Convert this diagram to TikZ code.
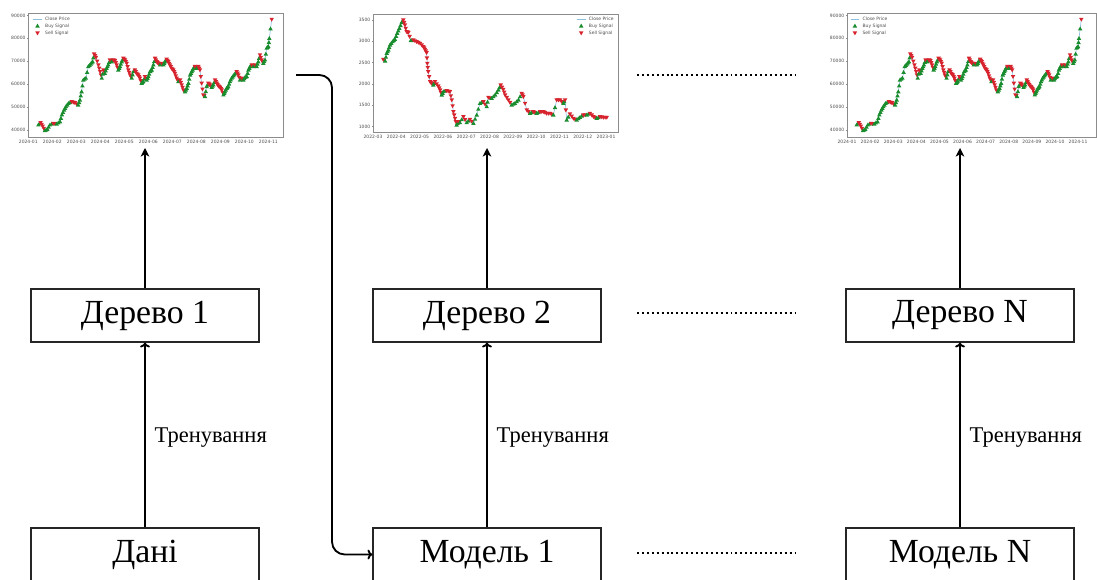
\documentclass[tikz,border=0pt]{standalone}
\usepackage{fontspec}
\setmainfont{Liberation Serif}
\newfontfamily\plotfont{DejaVu Sans}
\usetikzlibrary{arrows.meta}
\definecolor{pricecol}{RGB}{140,190,222}
\definecolor{buycol}{RGB}{25,140,45}
\definecolor{sellcol}{RGB}{215,35,45}
% маркери сигналів
\newcommand{\buymark}[1]{\fill[buy] #1 ++(0,1.7pt) -- ++(1.6pt,-2.8pt) -- ++(-3.2pt,0) -- cycle;}
\newcommand{\sellmark}[1]{\fill[sell] #1 ++(0,-1.7pt) -- ++(1.6pt,2.8pt) -- ++(-3.2pt,0) -- cycle;}
% курс (місяць/тис.)
\newcommand{\btcdata}{0.42/42.2, 0.51/43.2, 0.60/41.7, 0.69/39.7, 0.79/40.3, 0.90/42.2, 1.04/42.9, 1.18/42.6, 1.32/43.6, 1.40/46.6, 1.49/48.7, 1.57/50.2, 1.67/51.6, 1.81/52.4, 1.94/51.9, 2.08/50.9, 2.15/53.1, 2.22/56.7, 2.29/61.8, 2.40/62.6, 2.50/67.7, 2.60/68.8, 2.68/69.8, 2.74/73.2, 2.82/71.7, 2.92/68.4, 2.99/65.5, 3.06/62.6, 3.13/66.2, 3.19/64.7, 3.26/66.9, 3.33/68.4, 3.40/70.6, 3.47/69.8, 3.54/70.6, 3.61/70.3, 3.68/68.4, 3.75/66.2, 3.82/67.7, 3.89/69.8, 3.96/71.3, 4.03/70.6, 4.10/69.1, 4.17/66.2, 4.24/64.0, 4.31/62.6, 4.38/65.5, 4.44/66.2, 4.51/64.7, 4.58/64.0, 4.65/62.6, 4.72/60.4, 4.79/61.1, 4.86/63.3, 4.93/61.8, 5.00/63.3, 5.07/65.5, 5.14/66.2, 5.21/68.4, 5.28/71.3, 5.35/69.8, 5.42/69.1, 5.49/68.4, 5.56/69.1, 5.63/68.4, 5.69/69.8, 5.76/70.9, 5.83/69.8, 5.90/68.4, 5.97/66.9, 6.04/66.2, 6.11/64.7, 6.18/62.6, 6.25/61.1, 6.32/61.8, 6.39/59.7, 6.46/57.5, 6.53/56.7, 6.60/58.2, 6.67/60.4, 6.74/64.0, 6.81/65.5, 6.88/66.9, 6.94/67.7, 7.01/66.9, 7.08/67.7, 7.15/66.2, 7.22/60.4, 7.29/55.3, 7.36/54.6, 7.43/58.9, 7.50/60.4, 7.57/59.7, 7.64/58.6, 7.71/59.7, 7.78/61.8, 7.85/60.4, 7.92/59.2, 7.99/58.6, 8.06/57.5, 8.13/55.3, 8.19/56.7, 8.26/58.2, 8.33/58.9, 8.40/61.1, 8.47/62.6, 8.54/63.6, 8.61/64.5, 8.68/65.5, 8.75/64.0, 8.82/61.8, 8.89/62.6, 8.96/61.8, 9.03/63.0, 9.10/63.3, 9.17/66.2, 9.24/67.7, 9.31/68.4, 9.38/67.7, 9.44/68.4, 9.51/67.7, 9.58/69.8, 9.65/72.8, 9.72/70.6, 9.79/69.1, 9.86/70.6, 9.93/75.7, 10.00/76.4, 10.04/80.0, 10.14/88.3}
% курс (місяць/сотні)
\newcommand{\ethdata}{0.44/25.77, 0.52/25.38, 0.59/27.17, 0.66/27.95, 0.73/29.13, 0.84/29.91, 0.94/30.45, 1.04/31.86, 1.13/33.03, 1.23/34.36, 1.30/34.98, 1.37/33.81, 1.44/32.25, 1.52/32.09, 1.62/30.14, 1.73/30.30, 1.87/29.91, 2.02/29.52, 2.16/28.74, 2.23/28.11, 2.30/27.33, 2.33/24.83, 2.37/22.88, 2.45/20.54, 2.52/20.15, 2.59/19.76, 2.66/20.54, 2.80/19.52, 2.88/18.59, 2.95/17.42, 3.02/18.20, 3.16/18.43, 3.30/18.20, 3.38/16.25, 3.45/13.51, 3.52/11.95, 3.59/10.39, 3.66/11.17, 3.73/10.94, 3.88/12.34, 4.02/10.94, 4.16/11.72, 4.31/10.78, 4.45/12.73, 4.59/15.46, 4.74/15.85, 4.88/14.68, 4.95/16.87, 5.09/16.64, 5.24/17.42, 5.38/18.59, 5.48/19.76, 5.59/18.74, 5.67/17.42, 5.81/16.25, 5.95/15.07, 6.09/15.46, 6.24/16.25, 6.38/17.81, 6.45/17.03, 6.60/13.90, 6.74/13.12, 6.88/13.51, 7.02/13.12, 7.17/13.51, 7.31/13.51, 7.45/13.12, 7.60/13.12, 7.74/12.73, 7.88/16.25, 8.03/16.25, 8.17/15.46, 8.24/16.25, 8.31/11.56, 8.45/12.97, 8.60/11.95, 8.74/11.56, 8.88/12.19, 9.03/12.73, 9.17/12.73, 9.31/13.12, 9.46/12.34, 9.60/11.95, 9.74/12.34, 9.89/12.19, 10.03/12.19}
\begin{document}
\begin{tikzpicture}[x=0.025cm, y=0.025cm,
	box/.style={draw=black!85, line width=0.8pt, minimum width=5.7cm, minimum height=1.325cm, font=\fontsize{24}{28}\selectfont},
	train/.style={-{To[length=3.5pt,width=7pt]}, line width=1.3pt},
	feed/.style={-{Stealth[length=6pt,width=6pt,inset=1.5pt]}, line width=1.3pt},
	gap/.style={line width=1.3pt, dash pattern=on 1.4pt off 2.1pt},
	lbl/.style={right, xshift=0.22cm, yshift=-0.07cm, inner sep=0pt, font=\fontsize{16}{19}\selectfont},
	frame/.style={draw=black!45, line width=0.35pt},
	price/.style={draw=pricecol, line width=0.45pt},
	tiny/.style={font=\plotfont\fontsize{3.2}{3.6}\selectfont, text=black!70, inner sep=0.8pt},
	buy/.style={fill=buycol},
	sell/.style={fill=sellcol}]
	\useasboundingbox (0,0) rectangle (1097,579);
	% графіки 2024
	\foreach \ox/\sx/\fr in {28.3/0.6/10.61, 847/0.5775/10.78}{
		\begin{scope}[shift={(\ox,357.4)}, x=\sx cm, y=0.05725cm]
			\draw[frame] (0,36.94) rectangle (\fr,91.09);
			\foreach \v in {4,...,9}
				\draw[frame] (0,\v0) -- ++(-1pt,0) node[tiny,left] (ya\v) {\v0000};
			\foreach \lab [count=\i from 0] in {2024-01,2024-02,2024-03,2024-04,2024-05,2024-06,2024-07,2024-08,2024-09,2024-10,2024-11}
				\draw[frame] (\i,36.94) -- ++(0,-1pt) node[tiny,below] (xa\i) {\lab};
			\foreach \m/\p [remember=\m as \lm (initially 0.42), remember=\p as \lp (initially 42.2)] in \btcdata
				\draw[price] (\lm,\lp) -- (\m,\p);
			\foreach \m/\p [remember=\m as \lm (initially -1), remember=\p as \lp (initially 0)] in \btcdata {
				\ifdim\lm pt<0pt\else
					\pgfmathsetmacro\hm{(\lm+\m)/2}
					\pgfmathsetmacro\hp{(\lp+\p)/2}
					\ifdim\p pt>\lp pt
						\buymark{(\lm,\lp)} \buymark{(\hm,\hp)}
					\else
						\sellmark{(\lm,\lp)} \sellmark{(\hm,\hp)}
					\fi
				\fi
			}
			\sellmark{(10.14,88.3)}
		\end{scope}
	}
	% графік 2022
	\begin{scope}[shift={(373,409.6)}, x=0.5825cm, y=0.10675cm]
		\draw[frame] (0,8.76) rectangle (10.52,36.39);
		\foreach \v in {10,15,...,35}
			\draw[frame] (0,\v) -- ++(-1pt,0) node[tiny,left] (yb\v) {\v00};
		\foreach \lab [count=\i from 0] in {2022-03,2022-04,2022-05,2022-06,2022-07,2022-08,2022-09,2022-10,2022-11,2022-12,2023-01}
			\draw[frame] (\i,8.76) -- ++(0,-1pt) node[tiny,below] (xb\i) {\lab};
		\foreach \m/\p [remember=\m as \lm (initially 0.44), remember=\p as \lp (initially 25.77)] in \ethdata
			\draw[price] (\lm,\lp) -- (\m,\p);
		\foreach \m/\p [remember=\m as \lm (initially -1), remember=\p as \lp (initially 0)] in \ethdata {
			\ifdim\lm pt<0pt\else
				\pgfmathsetmacro\hm{(\lm+\m)/2}
				\pgfmathsetmacro\hp{(\lp+\p)/2}
				\ifdim\p pt>\lp pt
					\buymark{(\lm,\lp)} \buymark{(\hm,\hp)}
				\else
					\sellmark{(\lm,\lp)} \sellmark{(\hm,\hp)}
				\fi
			\fi
		}
		\sellmark{(10.03,12.19)}
	\end{scope}
	% легенди
	\foreach \lx [count=\k] in {33.3,577,850.7}{
		\draw[price, line width=0.5pt] (\lx,560) -- ++(8.5,0);
		\buymark{(\lx+4.2,553)}
		\sellmark{(\lx+4.2,546)}
		\node[tiny,right] (lga\k) at (\lx+10.5,560) {Close Price};
		\node[tiny,right] (lgb\k) at (\lx+10.5,553) {Buy Signal};
		\node[tiny,right] (lgc\k) at (\lx+10.5,546) {Sell Signal};
	}
	% блоки
	\node[box] (d1) at (145,263.5) {Дерево 1};
	\node[box] (d2) at (487,263.5) {Дерево 2};
	\node[box] (dN) at (960,263.5) {Дерево N};
	\node[box] (m0) at (145,24.5) {Дані};
	\node[box] (m1) at (487,24.5) {Модель 1};
	\node[box] (mN) at (960,24.5) {Модель N};
	\coordinate (c1) at (145,431);
	\coordinate (c2) at (487,431);
	\coordinate (cN) at (960,431);
	\coordinate (o1) at (296,504);
	\draw[train] (m0) -- node[lbl] (t1) {Тренування} (d1);
	\draw[train] (m1) -- node[lbl] (t2) {Тренування} (d2);
	\draw[train] (mN) -- node[lbl] (tN) {Тренування} (dN);
	\draw[feed] (d1) -- (c1);
	\draw[feed] (d2) -- (c2);
	\draw[feed] (dN) -- (cN);
	\draw[train, rounded corners=9pt] (o1) -- (332,504) |- (m1);
	\foreach \y in {504,266,26}
		\draw[gap] (637,\y) -- (798,\y);
\end{tikzpicture}
\end{document}
